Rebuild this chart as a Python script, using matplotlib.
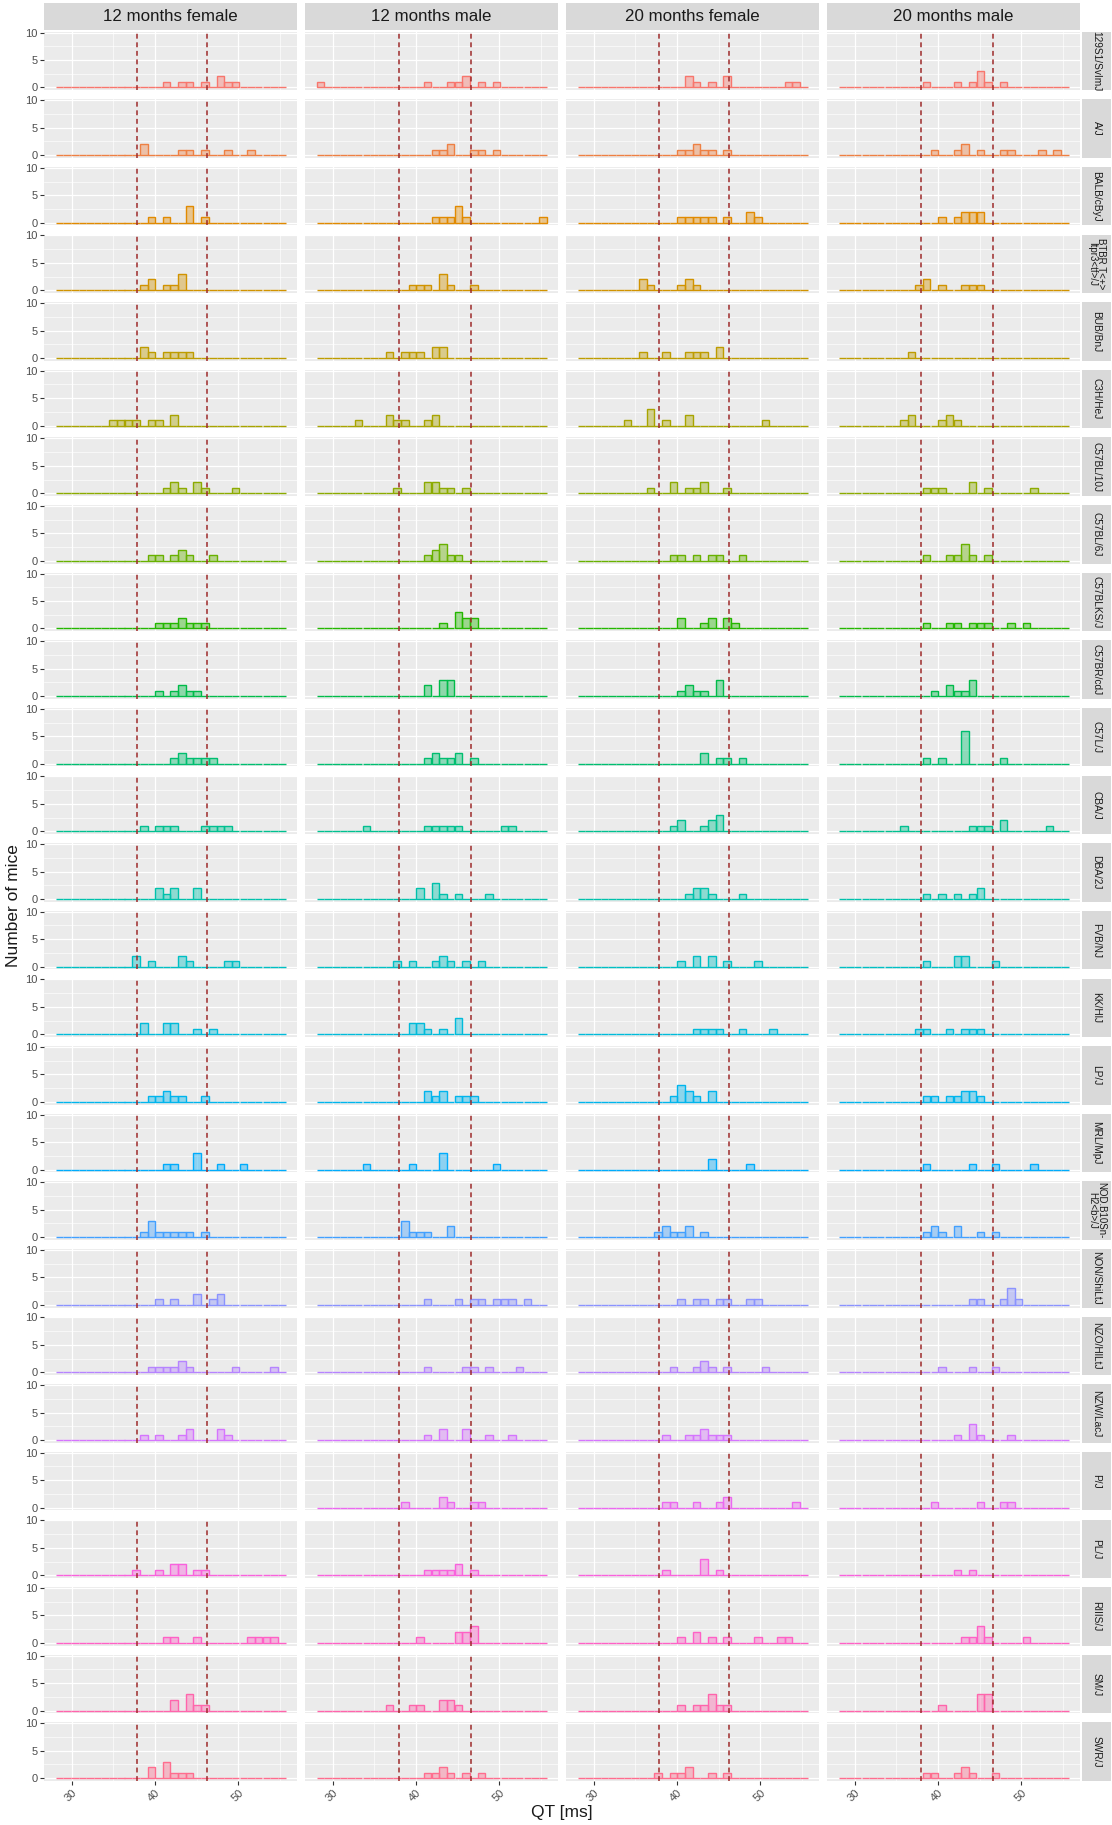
import numpy as np
import matplotlib
matplotlib.use("Agg")
import matplotlib.pyplot as plt

plt.rcParams["font.family"] = ["Liberation Sans", "DejaVu Sans"]

strains = ["129S1/SvImJ", "A/J", "BALB/cByJ", "BTBR T<+>\nItpr3<tf>/J", "BUB/BnJ",
           "C3H/HeJ", "C57BL/10J", "C57BL/6J", "C57BLKS/J", "C57BR/cdJ", "C57L/J",
           "CBA/J", "DBA/2J", "FVB/NJ", "KK/HlJ", "LP/J", "MRL/MpJ",
           "NOD.B10Sn-\nH2<b>/J", "NON/ShiLtJ", "NZO/HlLtJ", "NZW/LacJ", "P/J",
           "PL/J", "RIIIS/J", "SM/J", "SWR/J"]
facets = ["12 months female", "12 months male", "20 months female", "20 months male"]

# shared histogram bins (30 bins)
QT_MIN, BIN_W, N_BINS = 28.05, 0.92, 30
# dashed reference lines per sex
ref_female = [37.84, 46.2]
ref_male = [38.0, 46.56]

# bin index of every mouse, one list per strain (None = no mice)
f12 = [
    [14, 16, 17, 19, 21, 21, 22, 23],
    [11, 11, 16, 17, 19, 22, 25],
    [12, 14, 17, 17, 17, 19],
    [11, 12, 12, 14, 15, 16, 16, 16],
    [11, 11, 12, 14, 15, 16, 17],
    [7, 8, 9, 10, 12, 13, 15, 15],
    [14, 15, 15, 16, 18, 18, 19, 23],
    [12, 13, 15, 16, 16, 17, 20],
    [13, 14, 15, 16, 16, 17, 18, 19],
    [13, 15, 16, 16, 17, 18],
    [15, 16, 16, 17, 18, 19, 20],
    [11, 13, 14, 15, 19, 20, 21, 22],
    [13, 13, 14, 15, 15, 18, 18],
    [10, 10, 12, 16, 16, 17, 22, 23],
    [11, 11, 14, 14, 15, 15, 18, 20],
    [12, 13, 14, 14, 15, 16, 19],
    [14, 15, 18, 18, 18, 21, 24],
    [11, 12, 12, 12, 13, 14, 15, 16, 17, 19],
    [13, 15, 18, 18, 20, 21, 21],
    [12, 13, 14, 15, 16, 16, 17, 23, 28],
    [11, 13, 16, 17, 17, 21, 21, 22],
    None,
    [10, 13, 15, 15, 16, 16, 18, 19],
    [14, 15, 18, 25, 26, 27, 28],
    [15, 15, 17, 17, 17, 18, 19],
    [12, 12, 14, 14, 14, 15, 16, 17],
]
m12 = [
    [0, 14, 17, 18, 19, 19, 21, 23],
    [15, 16, 17, 17, 20, 21, 23],
    [15, 16, 17, 18, 18, 18, 19, 29],
    [12, 13, 14, 16, 16, 16, 17, 20],
    [9, 11, 12, 13, 15, 15, 16, 16],
    [5, 9, 9, 10, 11, 14, 15, 15],
    [10, 14, 14, 15, 15, 16, 17, 19],
    [14, 15, 15, 16, 16, 16, 17, 18],
    [16, 18, 18, 18, 19, 19, 20, 20],
    [14, 14, 16, 16, 16, 17, 17, 17],
    [14, 15, 15, 16, 17, 18, 18, 20],
    [6, 14, 15, 16, 17, 18, 24, 25],
    [13, 13, 15, 15, 15, 16, 18, 22],
    [10, 12, 15, 16, 16, 17, 19, 21],
    [12, 12, 13, 13, 14, 16, 18, 18, 18],
    [14, 14, 15, 16, 16, 18, 19, 20],
    [6, 12, 16, 16, 16, 23],
    [11, 11, 11, 12, 13, 14, 17, 17],
    [14, 18, 20, 21, 23, 24, 25, 27],
    [14, 19, 20, 22, 26],
    [14, 16, 16, 19, 19, 22, 25],
    [11, 16, 16, 17, 20, 21],
    [14, 15, 16, 17, 18, 18, 20],
    [13, 18, 18, 19, 19, 20, 20, 20],
    [9, 12, 13, 16, 16, 17, 17, 18],
    [14, 15, 16, 16, 17, 19, 21],
]
f20 = [
    [14, 14, 15, 17, 19, 19, 27, 28],
    [13, 14, 15, 15, 16, 17, 19],
    [13, 14, 15, 16, 17, 19, 22, 22, 23],
    [8, 8, 9, 13, 14, 14, 15],
    [8, 11, 14, 15, 16, 18, 18],
    [6, 9, 9, 9, 11, 14, 14, 24],
    [9, 12, 12, 14, 15, 16, 16, 19],
    [12, 13, 15, 17, 18, 21],
    [13, 13, 16, 17, 17, 19, 19, 20],
    [13, 14, 14, 15, 16, 18, 18, 18],
    [16, 16, 18, 19, 21],
    [12, 13, 13, 16, 17, 17, 18, 18, 18],
    [14, 15, 15, 16, 16, 17, 21],
    [13, 15, 15, 17, 17, 19, 23],
    [15, 16, 17, 18, 21, 25],
    [12, 13, 13, 13, 14, 14, 15, 17, 17],
    [17, 17, 22],
    [10, 11, 11, 12, 13, 14, 14, 16],
    [13, 15, 16, 18, 19, 22, 23],
    [12, 15, 16, 16, 17, 19, 24],
    [11, 14, 15, 16, 16, 17, 18, 19],
    [11, 12, 15, 18, 19, 19, 28],
    [11, 16, 16, 16, 18],
    [13, 15, 15, 17, 19, 23, 26, 27],
    [13, 15, 16, 17, 17, 17, 18, 19],
    [10, 12, 13, 14, 14, 17, 19],
]
m20 = [
    [11, 15, 17, 18, 18, 18, 19, 21],
    [12, 15, 16, 16, 18, 21, 22, 26, 28],
    [13, 15, 16, 16, 17, 17, 18, 18],
    [10, 11, 11, 13, 16, 17, 18],
    [9],
    [8, 9, 9, 13, 14, 14, 15],
    [11, 12, 13, 17, 17, 19, 25],
    [11, 14, 15, 16, 16, 16, 17, 19],
    [11, 14, 15, 17, 18, 19, 22, 24],
    [12, 14, 14, 15, 16, 17, 17, 17],
    [11, 13, 16, 16, 16, 16, 16, 16, 21],
    [8, 17, 18, 19, 21, 21, 27],
    [11, 13, 15, 17, 18, 18],
    [11, 15, 15, 16, 16, 20],
    [10, 11, 14, 16, 17, 18],
    [11, 12, 14, 15, 16, 16, 17, 17, 18],
    [11, 17, 20, 25],
    [11, 12, 12, 13, 15, 15, 18, 20],
    [17, 18, 21, 22, 22, 22, 23],
    [13, 17, 20],
    [15, 17, 17, 17, 18, 22],
    [12, 18, 21, 22],
    [15, 17],
    [16, 17, 18, 18, 18, 19, 24],
    [13, 18, 18, 18, 19, 19, 19],
    [11, 12, 15, 16, 16, 17, 20],
]
panels = [f12, m12, f20, m20]
refs = [ref_female, ref_male, ref_female, ref_male]


def hue_pal(n, l=65, c=100):
    # ggplot2 default discrete palette (HCL)
    Xn, Yn, Zn = 0.95047, 1.0, 1.08883
    un = 4 * Xn / (Xn + 15 * Yn + 3 * Zn)
    vn = 9 * Yn / (Xn + 15 * Yn + 3 * Zn)
    M = np.array([[3.2404542, -1.5371385, -0.4985314],
                  [-0.9692660, 1.8760108, 0.0415560],
                  [0.0556434, -0.2040259, 1.0572252]])
    out = []
    for h in np.linspace(15, 375, n + 1)[:-1]:
        hr = np.deg2rad(h)
        Y = ((l + 16) / 116) ** 3
        up = c * np.cos(hr) / (13 * l) + un
        vp = c * np.sin(hr) / (13 * l) + vn
        X = Y * 9 * up / (4 * vp)
        Z = Y * (12 - 3 * up - 20 * vp) / (4 * vp)
        rgb = M @ np.array([X, Y, Z])
        rgb = np.clip(rgb, 0, None)
        rgb = np.where(rgb <= 0.0031308, 12.92 * rgb, 1.055 * rgb ** (1 / 2.4) - 0.055)
        out.append(tuple(np.clip(rgb, 0, 1)))
    return out


colors = hue_pal(len(strains))
edges = QT_MIN + BIN_W * np.arange(N_BINS + 1)
rng = edges[-1] - edges[0]
xlim = (edges[0] - 0.05 * rng, edges[-1] + 0.05 * rng)

W, H = 1112, 1825
fig = plt.figure(figsize=(W / 100, H / 100), dpi=100)


def px(x, y, w, h):
    return [x / W, 1 - (y + h) / H, w / W, h / H]


col_x = [44, 305, 566, 827]
pw, ph = 253, 58.5
row_y0, row_dy = 31.7, 67.63
txt = "#4D4D4D"

for j, lab in enumerate(facets):
    sa = fig.add_axes(px(col_x[j], 3, pw, 26.5))
    sa.set_facecolor("#D9D9D9")
    sa.set_xticks([]); sa.set_yticks([])
    for s in sa.spines.values():
        s.set_visible(False)
    sa.text(0.5, 0.5, lab, ha="center", va="center", fontsize=12.2,
            color="#1A1A1A", transform=sa.transAxes)

for i, strain in enumerate(strains):
    y0 = row_y0 + i * row_dy
    sa = fig.add_axes(px(1082, y0, 29, ph))
    sa.set_facecolor("#D9D9D9")
    sa.set_xticks([]); sa.set_yticks([])
    for s in sa.spines.values():
        s.set_visible(False)
    two = "\n" in strain
    sa.text(0.5, 0.5, strain, ha="center", va="center", rotation=270,
            fontsize=7.0 if two else 7.3, color="#1A1A1A",
            transform=sa.transAxes, linespacing=0.85)
    for j in range(4):
        ax = fig.add_axes(px(col_x[j], y0, pw, ph))
        ax.set_facecolor("#EBEBEB")
        for s in ax.spines.values():
            s.set_visible(False)
        ax.set_xlim(*xlim)
        ax.set_ylim(-0.5, 10.15)
        ax.set_xticks([30, 40, 50])
        ax.set_xticks([35, 45, 55], minor=True)
        ax.set_yticks([0, 5, 10])
        ax.set_yticks([2.5, 7.5], minor=True)
        ax.grid(True, which="major", color="white", lw=0.9)
        ax.grid(True, which="minor", color="white", lw=0.45)
        ax.set_axisbelow(True)
        ax.tick_params(which="minor", length=0)
        ax.tick_params(which="major", length=3, width=0.8, color="#333333",
                       labelsize=8, labelcolor=txt, pad=1.5)
        if j > 0:
            ax.tick_params(axis="y", length=0, labelleft=False)
        if i < len(strains) - 1:
            ax.tick_params(axis="x", length=0, labelbottom=False)
        else:
            for t in ax.get_xticklabels():
                t.set_rotation(45)
                t.set_ha("right")
                t.set_rotation_mode("anchor")
        idx = panels[j][i]
        if idx is None:
            continue
        vals = QT_MIN + (np.array(idx) + 0.5) * BIN_W
        c = colors[i]
        ax.hist(vals, bins=edges, facecolor=(*c, 0.4), edgecolor=c, lw=1.0)
        for xr in refs[j]:
            ax.axvline(xr, color="#9E2A2A", lw=1.1, ls=(0, (3.2, 2.4)))

fig.text(14 / W, 1 - 906 / H, "Number of mice", rotation=90, ha="center",
         va="center", fontsize=12.5, color="#1A1A1A")
fig.text(562 / W, 1 - 1813 / H, "QT [ms]", ha="center", va="center",
         fontsize=12.5, color="#1A1A1A")

fig.savefig("out.png", dpi=100)
